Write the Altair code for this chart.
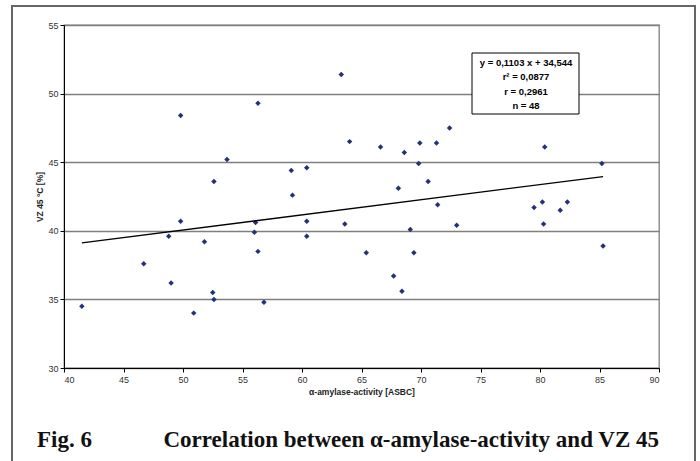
import altair as alt
import pandas as pd

# ---- data ----
activity = [41.5, 46.7, 48.8, 49.0, 49.8, 49.8, 50.9, 51.8, 52.5, 52.6, 52.6, 53.7,
            56.3, 59.1, 60.4, 59.2, 56.1, 56.0, 56.3, 56.8, 60.4, 60.4, 64.0, 63.6,
            65.4, 66.6, 68.1, 68.6, 69.9, 69.8, 71.3, 72.4, 70.6, 71.4, 69.1, 69.4,
            73.0, 67.7, 68.4, 63.3, 80.4, 85.2, 79.5, 80.2, 81.7, 82.3, 80.3, 85.3]
vz45 = [34.5, 37.6, 39.6, 36.2, 48.4, 40.7, 34.0, 39.2, 35.5, 35.0, 43.6, 45.2,
        49.3, 44.4, 44.6, 42.6, 40.6, 39.9, 38.5, 34.8, 40.7, 39.6, 46.5, 40.5,
        38.4, 46.1, 43.1, 45.7, 46.4, 44.9, 46.4, 47.5, 43.6, 41.9, 40.1, 38.4,
        40.4, 36.7, 35.6, 51.4, 46.1, 44.9, 41.7, 42.1, 41.5, 42.1, 40.5, 38.9]
trend_x = [41.5, 85.3]
trend_y = [39.12, 43.95]
stats_lines = ["y = 0,1103 x + 34,544", "r² = 0,0877", "r = 0,2961", "n = 48"]
x_ticks = [40, 45, 50, 55, 60, 65, 70, 75, 80, 85, 90]
y_ticks = [30, 35, 40, 45, 50, 55]
fig_label = "Fig. 6"
caption = "Correlation between α-amylase-activity and VZ 45"
x_title = "α-amylase-activity [ASBC]"
y_title = "VZ 45 °C [%]"

pts = pd.DataFrame({"x": activity, "y": vz45})
trend = pd.DataFrame({"x": trend_x, "y": trend_y})
one = pd.DataFrame({"k": [0]})

SANS = "Liberation Sans"
SERIF = "Liberation Serif"

xs = alt.Scale(domain=[40, 90], nice=False, zero=False)
ys = alt.Scale(domain=[30, 55], nice=False, zero=False)

points = alt.Chart(pts).mark_point(
    shape="diamond", filled=True, size=30, color="#25307a", opacity=1
).encode(
    x=alt.X("x:Q", scale=xs,
            axis=alt.Axis(values=x_ticks, title=x_title, grid=False,
                          domainColor="black", tickColor="black", tickSize=4,
                          labelFont=SANS, labelFontSize=9, labelColor="#333333",
                          labelPadding=3,
                          titleFont=SANS, titleFontSize=8.5, titleFontWeight="bold",
                          titleColor="#222222", titlePadding=3)),
    y=alt.Y("y:Q", scale=ys,
            axis=alt.Axis(values=y_ticks, title=y_title, grid=True,
                          gridColor="#7f7f7f", gridWidth=1.3,
                          domainColor="black", tickColor="black", tickSize=4,
                          labelFont=SANS, labelFontSize=9, labelColor="#333333",
                          labelPadding=2,
                          titleFont=SANS, titleFontSize=8.5, titleFontWeight="bold",
                          titleColor="#222222", titlePadding=3)),
)

line = alt.Chart(trend).mark_line(color="black", strokeWidth=1.3).encode(
    x=alt.X("x:Q", scale=xs), y=alt.Y("y:Q", scale=ys)
)

box = alt.Chart(one).mark_rect(fill="white", stroke="black", strokeWidth=1).encode(
    x=alt.value(408), x2=alt.value(515), y=alt.value(28), y2=alt.value(89)
)
box_text = alt.Chart(one).mark_text(
    font=SANS, fontSize=9.5, fontWeight="bold", color="black",
    align="center", baseline="middle", lineHeight=14.3
).encode(x=alt.value(462), y=alt.value(38), text=alt.value(stats_lines))

frame_left = alt.Chart(one).mark_rule(color="#666666", strokeWidth=2).encode(
    x=alt.value(-52), y=alt.value(-19), y2=alt.value(450))
frame_right = alt.Chart(one).mark_rule(color="#666666", strokeWidth=2).encode(
    x=alt.value(631), y=alt.value(-19), y2=alt.value(450))
frame_top = alt.Chart(one).mark_rule(color="#666666", strokeWidth=2).encode(
    x=alt.value(-53), x2=alt.value(632), y=alt.value(-19))

fig_text = alt.Chart(one).mark_text(
    font=SERIF, fontSize=23, fontWeight="bold", color="#111111",
    align="left", baseline="alphabetic"
).encode(x=alt.value(-27), y=alt.value(422), text=alt.value(fig_label))
cap_text = alt.Chart(one).mark_text(
    font=SERIF, fontSize=23, fontWeight="bold", color="#111111",
    align="right", baseline="alphabetic"
).encode(x=alt.value(595), y=alt.value(422), text=alt.value(caption))

chart = alt.layer(
    frame_left, frame_right, frame_top, points, line, box, box_text, fig_text, cap_text
).properties(
    width=595, height=343,
    autosize=alt.AutoSizeParams(type="none"),
    padding={"left": 64, "top": 25, "right": 41, "bottom": 93},
    background="white",
).configure_view(stroke="#808080", strokeWidth=1.3)

chart.save("out.html", embed_options={"renderer": "svg", "actions": False})
